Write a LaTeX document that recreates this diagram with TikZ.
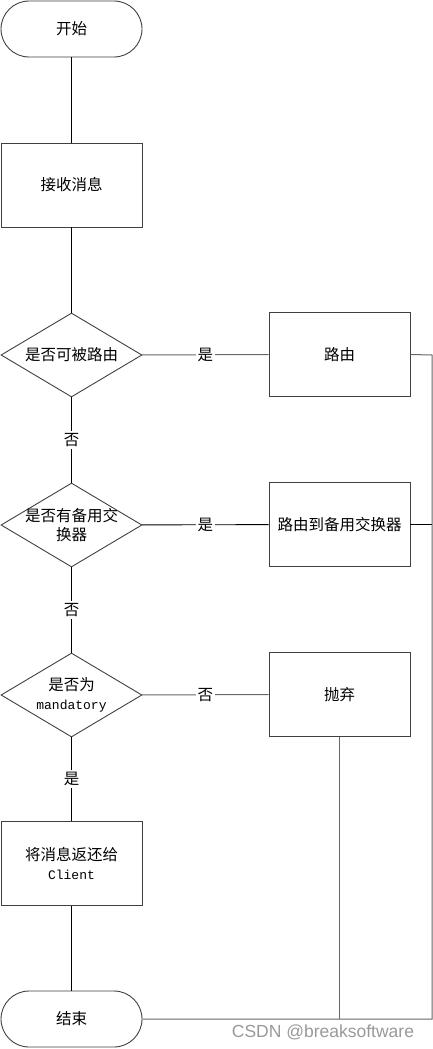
\documentclass[tikz,border=0pt]{standalone}
\usepackage{fontspec}
\newfontfamily\cjk{Noto Sans CJK SC}
\newfontfamily\mono{Liberation Mono}
\newfontfamily\wmfont{Liberation Sans}
\usetikzlibrary{shapes.geometric}
\begin{document}
\begin{tikzpicture}[x=1pt,y=-1pt,
  txt/.style={font=\cjk\fontsize{15.5}{19}\selectfont, align=center, inner sep=1pt},
  box/.style={txt, draw=black!75, line width=0.9pt, minimum width=141pt, minimum height=84pt, inner sep=0pt},
  term/.style={box, minimum height=56pt, rounded corners=28pt},
  dec/.style={draw=black!75, line width=0.9pt, diamond, minimum width=141pt, minimum height=84pt, inner sep=0pt},
  lbl/.style={txt, fill=white, inner sep=2pt},
  conn/.style={draw=black, line width=0.9pt},
  gconn/.style={draw=black!60, line width=1pt}]
\useasboundingbox (0,0) rectangle (433,1049);

\node[term] (start) at (71.5,29) {开始};
\node[box] (recv) at (71.5,185) {接收消息};
\node[dec] (d1) at (71.5,355) {};
\node[txt] (d1t) at (d1.center) {是否可被路由};
\node[box] (r1) at (339.5,354.5) {路由};
\node[dec] (d2) at (71.5,525) {};
\node[txt] (d2t) at (d2.center) {是否有备用交\\换器};
\node[box] (r2) at (339.5,524.5) {路由到备用交换器};
\node[dec] (d3) at (71.5,695) {};
\node[txt] (d3t) at (d3.center) {是否为\\{\mono\fontsize{13}{19}\selectfont mandatory}};
\node[box] (r3) at (339.5,694.5) {抛弃};
\node[box] (ret) at (71.5,863.5) {将消息返还给\\{\mono\fontsize{13}{20}\selectfont Client}};
\node[term] (end) at (71.5,1019) {结束};

\coordinate (rr) at (432,355);

\draw[conn] (start) -- (recv);
\draw[conn] (recv) -- (d1);
\draw[gconn] (d1) -- node[lbl] (y1) {是} (r1);
\draw[conn] (d1) -- node[lbl] (n1) {否} (d2);
\draw[conn] (d2) -- node[lbl] (y2) {是} (r2);
\draw[conn] (d2) -- node[lbl] (n2) {否} (d3);
\draw[gconn] (d3) -- node[lbl] (n3) {否} (r3);
\draw[conn] (d3) -- node[lbl] (y3) {是} (ret);
\draw[conn] (ret) -- (end);

\draw[gconn] (r1.east) -- (rr) |- (end.east);
\draw[conn] (r2.east) -- (r2.east -| rr);
\draw[gconn] (r3.south) -- (r3.south |- end.east);

\node[font=\wmfont\fontsize{17.5}{19}\selectfont, text=black!40, inner sep=0pt] (wm) at (323,1032) {CSDN @breaksoftware};
\end{tikzpicture}
\end{document}
